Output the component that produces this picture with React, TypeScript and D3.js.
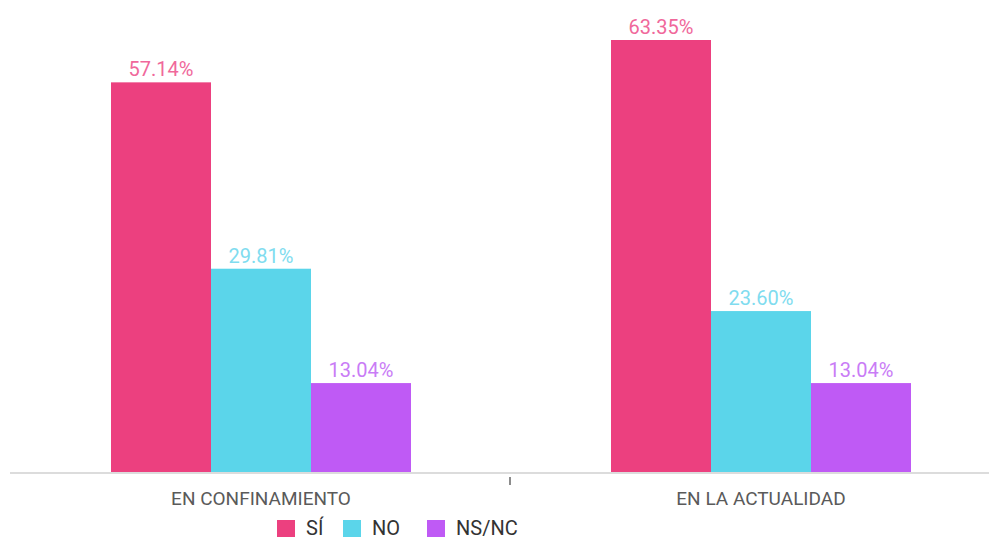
import * as d3 from 'd3';
import { useEffect, useRef } from 'react';

const categories = ['EN CONFINAMIENTO', 'EN LA ACTUALIDAD'];
const seriesNames = ['SÍ', 'NO', 'NS/NC'];
const siValues = [57.14, 63.35];
const noValues = [29.81, 23.6];
const nsncValues = [13.04, 13.04];

const barColors = ['#ec407f', '#5bd5ea', '#bf5af5'];
const labelColors = ['#f0689b', '#80dcef', '#c97cf6'];

export default function App() {
    const ref = useRef<SVGSVGElement | null>(null);

    useEffect(() => {
        document.body.style.margin = '0';
        document.body.style.overflow = 'hidden';

        const svg = d3.select(ref.current);
        svg.selectAll('*').remove();

        const width = 989;
        const height = 540;
        const baseline = 472;
        const font = 'Roboto, "Noto Sans", sans-serif';

        const series = [siValues, noValues, nsncValues];

        const x0 = d3.scaleBand<string>()
            .domain(categories)
            .range([11, 1011]);

        const x1 = d3.scaleBand<string>()
            .domain(seriesNames)
            .range([0, x0.bandwidth()])
            .paddingOuter(1);

        const y = d3.scaleLinear()
            .domain([0, 63.35])
            .range([baseline, 40]);

        svg.attr('width', width).attr('height', height)
            .style('display', 'block');

        // axis
        svg.append('line')
            .attr('x1', 10).attr('x2', width)
            .attr('y1', baseline + 1).attr('y2', baseline + 1)
            .attr('stroke', '#dcdcdc')
            .attr('stroke-width', 2);

        svg.append('line')
            .attr('x1', x0(categories[1])! - 1).attr('x2', x0(categories[1])! - 1)
            .attr('y1', baseline + 5).attr('y2', baseline + 13)
            .attr('stroke', '#666')
            .attr('stroke-width', 1.5);

        svg.append('g')
            .selectAll('text')
            .data(categories)
            .join('text')
            .attr('x', d => x0(d)! + x0.bandwidth() / 2)
            .attr('y', 505)
            .attr('text-anchor', 'middle')
            .attr('font-family', font)
            .attr('font-size', 19)
            .attr('fill', '#5a5a5a')
            .text(d => d);

        seriesNames.forEach((name, si) => {
            const g = svg.append('g');
            g.selectAll('rect')
                .data(series[si])
                .join('rect')
                .attr('x', (_, i) => x0(categories[i])! + x1(name)!)
                .attr('y', d => y(d))
                .attr('width', x1.bandwidth())
                .attr('height', d => baseline - y(d))
                .attr('fill', barColors[si]);

            g.selectAll('text')
                .data(series[si])
                .join('text')
                .attr('x', (_, i) => x0(categories[i])! + x1(name)! + x1.bandwidth() / 2)
                .attr('y', d => y(d) - 6)
                .attr('text-anchor', 'middle')
                .attr('font-family', font)
                .attr('font-size', 20)
                .attr('fill', labelColors[si])
                .text(d => d.toFixed(2) + '%');
        });

        // legend
        const legendX = [277, 343, 427];
        const legend = svg.append('g');
        seriesNames.forEach((name, i) => {
            legend.append('rect')
                .attr('x', legendX[i])
                .attr('y', 520)
                .attr('width', 18)
                .attr('height', 17)
                .attr('fill', barColors[i]);
            legend.append('text')
                .attr('x', legendX[i] + 29)
                .attr('y', 535)
                .attr('font-family', font)
                .attr('font-size', 20)
                .attr('fill', '#333')
                .text(name);
        });
    }, []);

    return <svg ref={ref}></svg>;
}
